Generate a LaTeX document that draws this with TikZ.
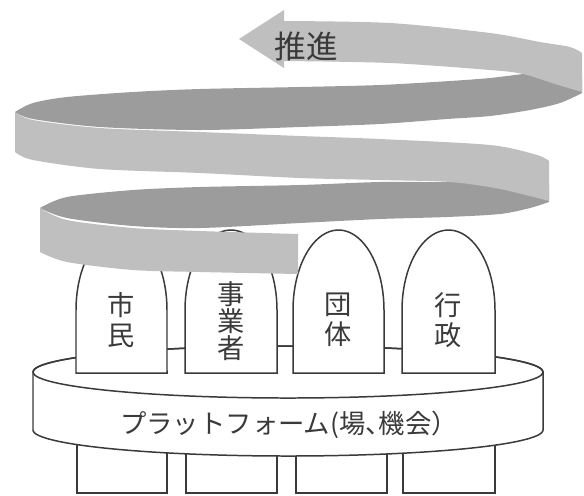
\documentclass[tikz,border=0pt]{standalone}
\usepackage{fontspec}
\setmainfont{Noto Sans CJK JP}
\definecolor{bandlight}{HTML}{BFBFBF}
\definecolor{banddark}{HTML}{9C9C9C}
\definecolor{inkgray}{HTML}{3A3A3A}
\tikzset{
    outline/.style={draw=inkgray, line width=0.85pt, fill=white},
    pillartext/.style={text=inkgray, align=center, inner sep=0pt, font=\fontsize{15.5}{17}\selectfont}
}
\begin{document}
\begin{tikzpicture}[x=0.02cm, y=-0.02cm]
    \useasboundingbox (0,0) rectangle (584,495);

    % Legs (Bottom)
    \foreach \xl/\xr in {77/167, 186/277, 296/387, 403/495}
        \draw[outline] (\xl,420) rectangle (\xr,493);

    % Platform
    \draw[outline] (33,372) -- (33,430)
        -- plot[domain=180:0, samples=60] ({288+255*cos(\x)}, {430+26*sin(\x)})
        -- (543,372)
        -- plot[domain=360:180, samples=60] ({288+255*cos(\x)}, {372+26*sin(\x)}) -- cycle;
    \draw[draw=inkgray, line width=0.85pt] (288,372) ellipse[x radius=255, y radius=26];
    \node[text=inkgray, inner sep=0pt, font=\fontsize{15}{16}\selectfont] (platform) at (289,425) {プラットフォーム(場{\addfontfeatures{RawFeature=+halt}、}機会）};

    % Pillars
    \foreach \xl/\xr in {76/167, 185/277, 293/384, 402/495}
        \draw[outline] (\xl,373) -- (\xl,310)
            -- plot[domain=180:360, samples=40] ({(\xl+\xr)/2+(\xr-\xl)/2*cos(\x)}, {310+80*sin(\x)})
            -- (\xr,373) -- cycle;
    \node[pillartext] (shimin) at (121.5,320) {市\\民};
    \node[pillartext, font=\fontsize{15.5}{13.7}\selectfont] (jigyosha) at (231,321) {事\\業\\者};
    \node[pillartext] (dantai) at (338.5,320) {団\\体};
    \node[pillartext] (gyosei) at (448.5,320) {行\\政};

    % Spiral (back faces)
    \fill[banddark] plot[smooth] coordinates {(15,112) (33,103) (67,97) (133,92) (200,89) (300,87) (380,85) (450,81) (490,78) (523,74) (560,70) (582,76)}
        -- plot[smooth] coordinates {(582,93) (560,103) (530,110) (490,116) (447,119) (380,124) (300,127) (200,130) (100,127) (33,119) (15,112)} -- cycle;
    \fill[banddark] plot[smooth] coordinates {(40,208) (67,197) (133,190) (200,187) (300,185) (380,182) (450,182) (510,180) (549,185)}
        -- plot[smooth] coordinates {(549,202) (530,208) (500,214) (447,217) (380,219) (300,223) (200,228) (133,226) (67,218) (40,208)} -- cycle;

    % Spiral (front faces)
    \fill[bandlight] plot[smooth] coordinates {(15,112) (33,120) (100,128) (200,132) (300,136) (380,139) (490,145) (537,155) (549,161)}
        -- (549,201)
        -- plot[smooth] coordinates {(549,201) (500,189) (450,182) (380,180) (300,178) (200,173) (100,169) (33,160) (15,152)} -- cycle;
    \fill[bandlight] plot[smooth] coordinates {(40,208) (67,220) (133,228) (200,231) (298,234)}
        -- (298,274)
        -- plot[smooth] coordinates {(298,274) (200,272) (133,270) (67,262) (40,252)} -- cycle;
    \fill[bandlight] (239,39) -- (284,10) -- (284,21)
        -- plot[smooth] coordinates {(284,21) (390,23) (490,33) (540,42) (570,47) (582,53)}
        -- (582,92)
        -- plot[smooth] coordinates {(582,92) (555,84) (523,74) (490,70) (390,63) (284,61)}
        -- (284,68) -- cycle;
    \node[text=inkgray, inner sep=0pt, font=\fontsize{18}{20}\selectfont] (suishin) at (306,46) {推進};
\end{tikzpicture}
\end{document}
